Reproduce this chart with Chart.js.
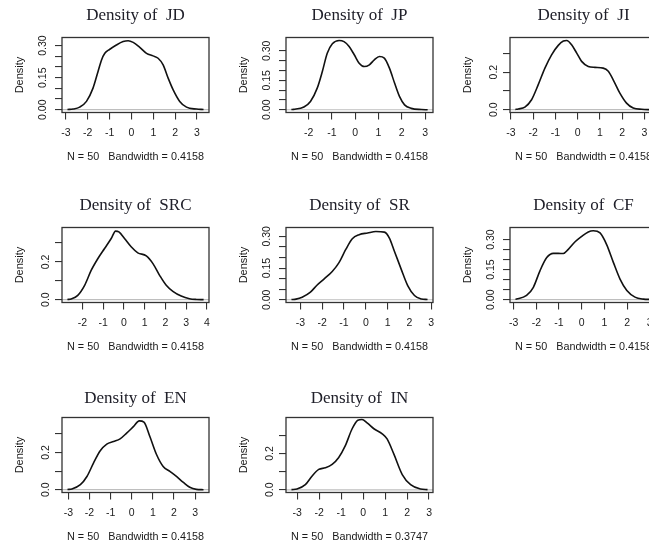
<!DOCTYPE html>
<html><head><meta charset="utf-8">
<script src="https://cdn.jsdelivr.net/npm/chart.js@4/dist/chart.umd.min.js"></script>
<style>
html,body{margin:0;padding:0;background:#fff;overflow:hidden;}
#wrap{position:relative;width:649px;height:548px;overflow:hidden;background:#fff;}
#wrap canvas{position:absolute;}
</style></head><body><div id="wrap"></div>
<script>
// ---- data ----
const variables = ['JD','JP','JI','SRC','SR','CF','EN','IN'];
const sampleSizes = [50,50,50,50,50,50,50,50];
const bandwidths = ['0.4158','0.4158','0.4158','0.4158','0.4158','0.4158','0.4158','0.3747'];

const jdX = [-2.93,-2.67,-2.37,-2.06,-1.76,-1.53,-1.37,-1.22,-0.99,-0.69,-0.38,-0.15,0.08,0.38,0.69,0.99,1.22,1.45,1.68,1.91,2.21,2.52,2.98,3.30];
const jdY = [0.001,0.003,0.012,0.039,0.101,0.179,0.233,0.264,0.283,0.303,0.319,0.323,0.315,0.292,0.264,0.252,0.241,0.210,0.148,0.093,0.039,0.012,0.003,0.001];

const jpX = [-2.74,-2.64,-2.2,-1.92,-1.63,-1.41,-1.2,-0.98,-0.69,-0.48,-0.26,-0.04,0.17,0.39,0.61,0.82,1.04,1.25,1.47,1.69,1.9,2.12,2.41,2.84,3.11];
const jpY = [0.001,0.002,0.014,0.042,0.11,0.195,0.288,0.336,0.353,0.347,0.322,0.28,0.237,0.22,0.229,0.254,0.271,0.263,0.212,0.136,0.068,0.025,0.007,0.001,0];

const jiX = [-2.8,-2.67,-2.37,-2.07,-1.77,-1.47,-1.17,-0.87,-0.64,-0.49,-0.27,-0.04,0.18,0.48,0.78,1.15,1.38,1.6,1.9,2.2,2.5,2.88,3.32];
const jiY = [0.001,0.004,0.014,0.053,0.133,0.221,0.292,0.342,0.365,0.368,0.345,0.301,0.257,0.23,0.225,0.221,0.204,0.159,0.088,0.035,0.009,0.002,0];

const srcX = [-2.72,-2.54,-2.22,-1.89,-1.57,-1.25,-0.93,-0.61,-0.4,-0.24,0.03,0.35,0.67,1.08,1.4,1.72,2.04,2.36,2.76,3.16,3.5,3.84];
const srcY = [0.001,0.004,0.023,0.076,0.156,0.218,0.271,0.324,0.363,0.359,0.324,0.28,0.248,0.232,0.191,0.129,0.076,0.044,0.019,0.005,0.001,0];

const srX = [-3.41,-3.2,-2.92,-2.54,-2.23,-1.92,-1.54,-1.23,-0.92,-0.62,-0.31,0.08,0.46,0.85,1.08,1.31,1.62,1.92,2.23,2.55,2.83];
const srY = [0.001,0.003,0.012,0.036,0.07,0.098,0.134,0.176,0.238,0.289,0.308,0.316,0.323,0.32,0.292,0.23,0.145,0.067,0.02,0.004,0.001];

const cfX = [-2.92,-2.87,-2.43,-2.13,-1.84,-1.54,-1.25,-1.03,-0.81,-0.59,-0.29,0,0.29,0.51,0.81,1.1,1.4,1.69,1.99,2.35,2.72,3.08];
const cfY = [0.002,0.003,0.021,0.062,0.144,0.21,0.231,0.231,0.23,0.251,0.289,0.316,0.338,0.344,0.333,0.275,0.185,0.103,0.046,0.013,0.003,0.001];

const enX = [-3.04,-2.83,-2.43,-2.12,-1.81,-1.49,-1.18,-0.86,-0.55,-0.24,0.08,0.36,0.58,0.86,1.18,1.49,1.81,2.12,2.43,2.75,3.06,3.4];
const enY = [0.001,0.004,0.027,0.071,0.143,0.209,0.245,0.259,0.273,0.304,0.339,0.37,0.363,0.286,0.188,0.125,0.098,0.071,0.041,0.013,0.002,0];

const inX = [-3.26,-3.01,-2.63,-2.33,-2.02,-1.72,-1.41,-1.11,-0.81,-0.5,-0.24,-0.05,0.18,0.49,0.87,1.09,1.4,1.78,2.16,2.61,2.93];
const inY = [0.001,0.004,0.028,0.075,0.112,0.121,0.14,0.178,0.243,0.336,0.383,0.387,0.368,0.336,0.308,0.28,0.196,0.084,0.028,0.004,0.001];

// axis ticks
const xTicksStd = [-3,-2,-1,0,1,2,3];
const xTicksJP  = [-2,-1,0,1,2,3];
const xTicksSRC = [-2,-1,0,1,2,3,4];
const yTicksFine = [0,0.05,0.10,0.15,0.20,0.25,0.30];
const yLabelsFine = ['0.00','','','0.15','','','0.30'];
const yTicksCoarse = [0,0.1,0.2,0.3];
const yLabelsCoarse = ['0.0','','0.2',''];

// axis ranges (plot region limits)
const xLimits = [[-3.18,3.55],[-2.97,3.34],[-3.04,3.57],[-2.98,4.1],[-3.66,3.08],[-3.16,3.32],[-3.3,3.66],[-3.51,3.18]];
const yLimits = [[-0.013,0.338],[-0.014,0.368],[-0.015,0.384],[-0.015,0.382],[-0.013,0.342],[-0.014,0.36],[-0.015,0.388],[-0.015,0.398]];

const curvesX = [jdX,jpX,jiX,srcX,srX,cfX,enX,inX];
const curvesY = [jdY,jpY,jiY,srcY,srY,cfY,enY,inY];
const xTickSets = [xTicksStd,xTicksJP,xTicksStd,xTicksSRC,xTicksStd,xTicksStd,xTicksStd,xTicksStd];
const yTickKind = ['fine','fine','coarse','coarse','fine','fine','coarse','coarse'];

// ---- layout / style ----
const CW = 224, CH = 190;
const BOX = {left:62, top:37.5, right:209, bottom:112.5};
const titleCenters = [16, 15.5, 18.5];
const SANS = "'Liberation Sans', Arial, sans-serif";
const SERIF = "'Liberation Serif', 'Times New Roman', serif";
const INK = '#1a1a1a';

const boxPlugin = {
  id: 'rbox',
  afterDraw(chart) {
    const {ctx, chartArea: a} = chart;
    ctx.save();
    ctx.strokeStyle = '#333';
    ctx.lineWidth = 1.3;
    ctx.strokeRect(a.left, a.top, a.right - a.left, a.bottom - a.top);
    ctx.restore();
  }
};

const wrap = document.getElementById('wrap');
variables.forEach((name, i) => {
  const col = i % 3, row = Math.floor(i / 3);
  const cv = document.createElement('canvas');
  cv.width = CW; cv.height = CH;
  cv.style.left = (col * 224) + 'px';
  cv.style.top = (row * 190) + 'px';
  cv.style.width = CW + 'px'; cv.style.height = CH + 'px';
  wrap.appendChild(cv);

  const xs = curvesX[i], ys = curvesY[i];
  const [xmin, xmax] = xLimits[i];
  const [ymin, ymax] = yLimits[i];
  const yt = yTickKind[i] === 'fine' ? yTicksFine : yTicksCoarse;
  const yl = yTickKind[i] === 'fine' ? yLabelsFine : yLabelsCoarse;
  const xt = xTickSets[i];
  const tc = titleCenters[row];
  const tSize = 17, tLH = tSize * 1.2;
  const tTop = tc - tLH / 2;

  new Chart(cv, {
    type: 'line',
    data: {
      datasets: [
        {
          data: xs.map((x, k) => ({x, y: ys[k]})),
          borderColor: '#111',
          borderWidth: 1.6,
          pointRadius: 0,
          cubicInterpolationMode: 'monotone',
          fill: false
        },
        {
          data: [{x: xmin, y: 0}, {x: xmax, y: 0}],
          borderColor: '#bebebe',
          borderWidth: 1.2,
          pointRadius: 0,
          fill: false
        }
      ]
    },
    options: {
      responsive: false,
      animation: false,
      events: [],
      layout: {padding: {left: 0, right: CW - BOX.right, top: 0, bottom: 0}},
      plugins: {
        legend: {display: false},
        tooltip: {enabled: false},
        title: {
          display: true,
          text: 'Density of\u2002' + name,
          fullSize: false,
          color: '#20202a',
          font: {family: SERIF, size: tSize, weight: 'normal'},
          padding: {top: tTop, bottom: BOX.top - tTop - tLH}
        }
      },
      scales: {
        x: {
          type: 'linear', min: xmin, max: xmax,
          afterBuildTicks: s => { s.ticks = xt.map(v => ({value: v})); },
          afterFit: s => { s.height = CH - BOX.bottom; },
          grid: {drawOnChartArea: false, drawTicks: true, tickLength: 7, color: '#333', lineWidth: 1.1},
          border: {display: false},
          ticks: {autoSkip: false, minRotation: 0, maxRotation: 0, padding: 7.5,
                  color: INK, font: {family: SANS, size: 10.5}, callback: v => String(v)},
          title: {display: true, text: `N = ${sampleSizes[i]}   Bandwidth = ${bandwidths[i]}`,
                  color: INK, font: {family: SANS, size: 10.8}, padding: {top: 0, bottom: 26.5}}
        },
        y: {
          type: 'linear', min: ymin, max: ymax,
          afterBuildTicks: s => { s.ticks = yt.map(v => ({value: v})); },
          afterFit: s => { s.width = BOX.left; },
          grid: {drawOnChartArea: false, drawTicks: true, tickLength: 7, color: '#333', lineWidth: 1.1},
          border: {display: false},
          ticks: {autoSkip: false, minRotation: 90, maxRotation: 90, crossAlign: 'center', padding: 2,
                  color: INK, font: {family: SANS, size: 10.5}, callback: (v, k) => yl[k]},
          title: {display: true, text: 'Density', color: INK,
                  font: {family: SANS, size: 11}, padding: {top: 13.4, bottom: 0}}
        }
      }
    },
    plugins: [boxPlugin]
  });
});
</script>
</body></html>
